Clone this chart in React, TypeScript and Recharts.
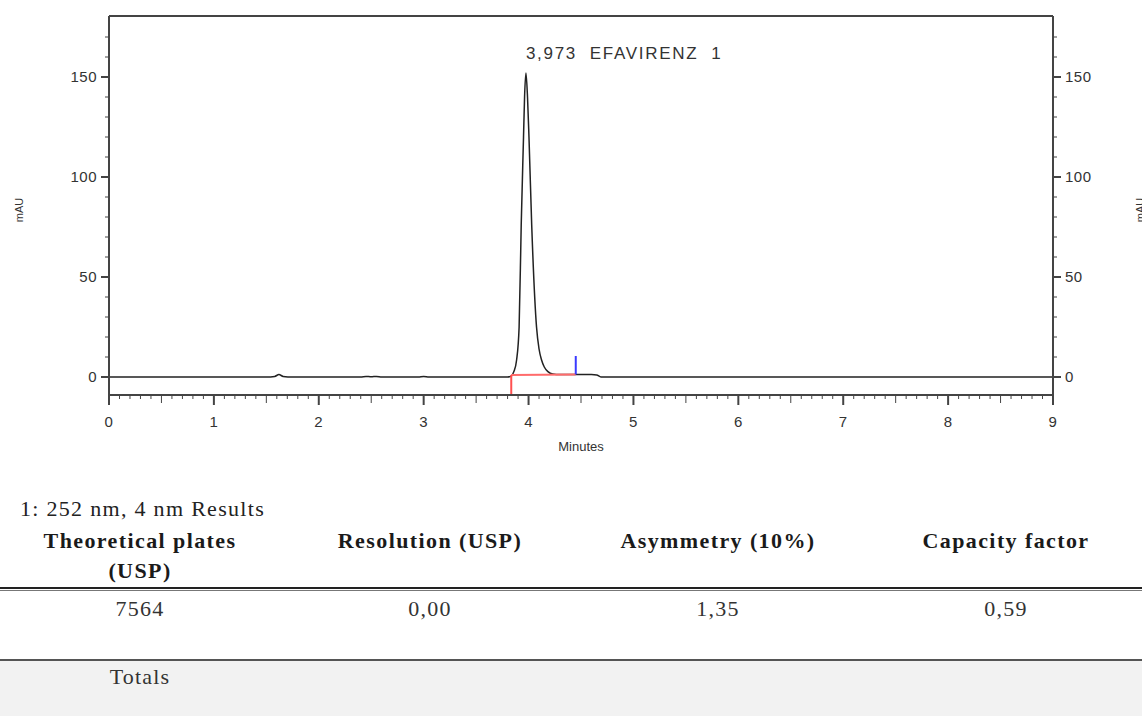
import React from 'react';
import { ComposedChart, Line, XAxis, YAxis, ReferenceLine, ReferenceDot } from 'recharts';

// chromatogram trace (minutes / mAU)
const traceMinutes = [0, 1.5, 1.58, 1.62, 1.66, 1.75, 2.4, 2.45, 2.5, 2.55, 2.6, 2.95, 3.0, 3.05, 3.8, 3.835, 3.86, 3.886, 3.91, 3.93, 3.952, 3.962, 3.975, 3.99, 4.004, 4.03, 4.076, 4.1, 4.124, 4.15, 4.185, 4.23, 4.3, 4.45, 4.6, 4.65, 4.69, 5.5, 9];
const traceMAU = [0, 0, 0.3, 1.2, 0.3, 0, 0, 0.3, 0.1, 0.3, 0, 0, 0.3, 0, 0, 0.4, 2.7, 8.5, 25, 76, 120, 140, 152, 140, 120, 76, 25, 14, 8.5, 5, 2.7, 1.5, 1.2, 1.2, 1.2, 1, 0, 0, 0];

// integration baseline (red) and peak end marker (blue)
const baselineMinutes = [3.835, 4.45];
const baselineMAU = [1.0, 1.3];
const peakEndTop = 10.5;

const peakLabel = '3,973  EFAVIRENZ  1';

const minuteTicks = Array.from({ length: 91 }, (_, i) => i / 10);
const mauTicks = Array.from({ length: 18 }, (_, i) => i * 10);
const mauDomain = [-9, 180.5];

const resultsTitle = '1: 252 nm, 4 nm Results';
const columnNames = ['Theoretical plates\n(USP)', 'Resolution (USP)', 'Asymmetry (10%)', 'Capacity factor'];
const columnValues = ['7564', '0,00', '1,35', '0,59'];
const columnCenters = [140, 430, 718, 1006];

const traceData = traceMinutes.map((t, i) => ({ t, v: traceMAU[i] }));
const baselineData = baselineMinutes.map((t, i) => ({ t, v: baselineMAU[i] }));
const peakIdx = traceMAU.indexOf(Math.max(...traceMAU));

const axisFont = { fontFamily: '"Liberation Sans", Arial, sans-serif', fontSize: 15, fill: '#333', letterSpacing: 0.5 };

const XTick = ({ x, y, payload }: any) => {
  const v = payload.value;
  const major = Math.abs(v - Math.round(v)) < 1e-6;
  const half = Math.abs(v * 2 - Math.round(v * 2)) < 1e-6;
  return (
    <g>
      <line x1={x} y1={y} x2={x} y2={y + (major ? 10 : half ? 8 : 4)} stroke="#444" strokeWidth={major ? 2 : 1} />
      {major && (
        <text x={x} y={y + 32} textAnchor="middle" {...axisFont}>{Math.round(v)}</text>
      )}
    </g>
  );
};

const YTick = ({ x, y, payload, side }: any) => {
  const v = payload.value;
  const major = v % 50 === 0;
  const dir = side === 'left' ? -1 : 1;
  return (
    <g>
      <line x1={x} y1={y} x2={x + dir * (major ? 8 : 4)} y2={y} stroke="#444" strokeWidth={major ? 2 : 1} />
      {major && (
        <text x={x + dir * 12} y={y + 5} textAnchor={side === 'left' ? 'end' : 'start'} {...axisFont}>{v}</text>
      )}
    </g>
  );
};

const mauTitle = (dx: number) => (props: any) => {
  const vb = props.viewBox;
  const cx = vb.x + dx;
  const cy = 210;
  return (
    <text x={cx} y={cy} transform={`rotate(-90 ${cx} ${cy})`} textAnchor="middle" dominantBaseline="middle"
      fontFamily='"Liberation Sans", Arial, sans-serif' fontSize={11} fill="#333">mAU</text>
  );
};

const minutesTitle = (props: any) => {
  const vb = props.viewBox;
  return (
    <text x={vb.x + vb.width / 2} y={vb.y + 56} textAnchor="middle"
      fontFamily='"Liberation Sans", Arial, sans-serif' fontSize={13} fill="#333">Minutes</text>
  );
};

const peakTitle = (props: any) => {
  const vb = props.viewBox;
  return (
    <text x={vb.x} y={vb.y - 14} style={{ whiteSpace: 'pre' }}
      fontFamily='"Liberation Sans", Arial, sans-serif' fontSize={17} letterSpacing={1.7} fill="#333">{peakLabel}</text>
  );
};

const serif = '"Liberation Serif", "Times New Roman", serif';

export default function App() {
  return (
    <div style={{ position: 'absolute', left: 0, top: 0, width: 1142, height: 716, overflow: 'hidden', background: '#fff' }}>
      <div style={{ position: 'absolute', left: 0, top: 0 }}>
        <ComposedChart width={1142} height={460} data={traceData} margin={{ top: 16, right: 0, bottom: 0, left: 0 }}>
          <XAxis dataKey="t" type="number" domain={[0, 9]} ticks={minuteTicks} interval={0} allowDataOverflow
            height={65} tickSize={0} tickMargin={0} tickLine={false} tick={<XTick />}
            axisLine={{ stroke: '#444', strokeWidth: 2 }} label={{ content: minutesTitle }} />
          <YAxis yAxisId="left" type="number" domain={mauDomain} ticks={mauTicks} interval={0} allowDataOverflow
            width={109} tickSize={0} tickMargin={0} tickLine={false} tick={<YTick side="left" />}
            axisLine={{ stroke: '#444', strokeWidth: 2 }} label={{ content: mauTitle(20) }} />
          <YAxis yAxisId="right" orientation="right" type="number" domain={mauDomain} ticks={mauTicks} interval={0} allowDataOverflow
            width={89} tickSize={0} tickMargin={0} tickLine={false} tick={<YTick side="right" />}
            axisLine={{ stroke: '#444', strokeWidth: 2 }} label={{ content: mauTitle(88) }} />
          <ReferenceLine yAxisId="left" y={mauDomain[1]} stroke="#444" strokeWidth={2} />
          <Line yAxisId="left" type="monotone" dataKey="v" stroke="#222" strokeWidth={1.5} dot={false} activeDot={false} isAnimationActive={false} />
          <Line yAxisId="left" data={baselineData} dataKey="v" type="linear" stroke="#ff6b6b" strokeWidth={2} dot={false} activeDot={false} isAnimationActive={false} />
          <ReferenceLine yAxisId="left" segment={[{ x: baselineMinutes[0], y: baselineMAU[0] }, { x: baselineMinutes[0], y: mauDomain[0] }]} stroke="#ff5050" strokeWidth={2} />
          <ReferenceLine yAxisId="left" segment={[{ x: baselineMinutes[1], y: baselineMAU[1] }, { x: baselineMinutes[1], y: peakEndTop }]} stroke="#3a3aff" strokeWidth={2} />
          <ReferenceDot yAxisId="left" x={traceMinutes[peakIdx]} y={traceMAU[peakIdx]} r={0} fill="none" stroke="none" label={{ content: peakTitle }} />
        </ComposedChart>
      </div>

      <div style={{ position: 'absolute', left: 20, top: 498, fontFamily: serif, fontSize: 22, lineHeight: '22px', letterSpacing: 1.3, color: '#222', whiteSpace: 'nowrap' }}>
        {resultsTitle}
      </div>

      {columnNames.map((name, i) => (
        <div key={name} style={{ position: 'absolute', left: columnCenters[i] - 150, width: 300, top: 526, textAlign: 'center', fontFamily: serif, fontWeight: 'bold', fontSize: 22, lineHeight: '30px', letterSpacing: 1.4, color: '#1a1a1a', whiteSpace: 'pre' }}>
          {name}
        </div>
      ))}

      <div style={{ position: 'absolute', left: 0, top: 587, width: 1142, height: 2, background: '#222' }} />
      <div style={{ position: 'absolute', left: 0, top: 590, width: 1142, height: 1, background: '#777' }} />

      {columnValues.map((val, i) => (
        <div key={i} style={{ position: 'absolute', left: columnCenters[i] - 150, width: 300, top: 598, textAlign: 'center', fontFamily: serif, fontSize: 22, lineHeight: '22px', letterSpacing: 1.2, color: '#333' }}>
          {val}
        </div>
      ))}

      <div style={{ position: 'absolute', left: 0, top: 659, width: 1142, height: 2, background: '#555' }} />
      <div style={{ position: 'absolute', left: 0, top: 661, width: 1142, height: 55, background: '#f2f2f2' }} />
      <div style={{ position: 'absolute', left: columnCenters[0] - 150, width: 300, top: 666, textAlign: 'center', fontFamily: serif, fontSize: 22, lineHeight: '22px', letterSpacing: 1.2, color: '#333' }}>
        Totals
      </div>
    </div>
  );
}
